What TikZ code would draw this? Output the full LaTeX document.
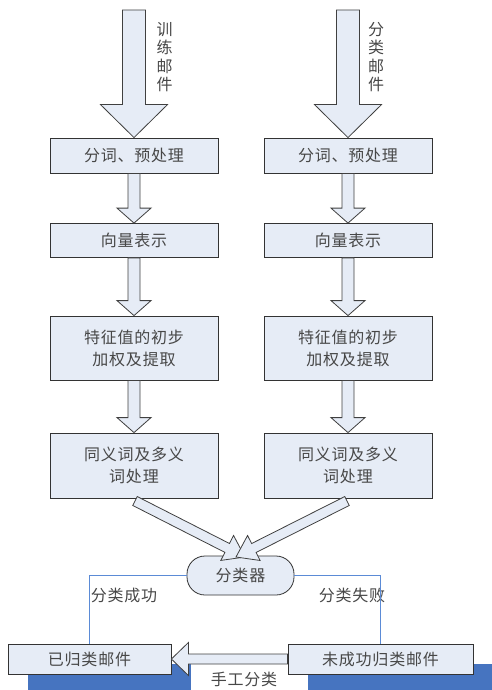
\documentclass[tikz,border=0pt]{standalone}
\usepackage{fontspec}
\setmainfont{Noto Sans CJK SC}[LetterSpace=5]
\usetikzlibrary{calc,shadows}
\definecolor{BoxClr}{RGB}{230,236,246}
\definecolor{LinkClr}{RGB}{91,139,214}
\definecolor{ShadowClr}{RGB}{70,116,192}
\definecolor{TextClr}{gray}{0.28}

% hollow block arrow: from, to, half shaft, half head, head length
\newcommand{\FatArrow}[5]{%
  \coordinate (fa) at ($(#2)!#5!(#1)$);
  \filldraw[arrowbody] ($(#1)!#3!90:(#2)$) -- ($(fa)!#3!90:(#2)$) -- ($(fa)!#4!90:(#2)$)
    -- (#2) -- ($(fa)!#4!-90:(#2)$) -- ($(fa)!#3!-90:(#2)$) -- ($(#1)!#3!-90:(#2)$) -- cycle;}

\begin{document}
\begin{tikzpicture}[x=1pt,y=-1pt,
  box/.style={draw=black!80,fill=BoxClr,line width=0.8pt,text=TextClr,inner sep=0pt,
    align=center,minimum width=168,font=\fontsize{16}{22}\selectfont},
  lbl/.style={text=TextClr,inner sep=0pt,align=center,font=\fontsize{16}{18.5}\selectfont},
  arrowbody/.style={fill=BoxClr,draw=black!75,line width=0.8pt,line join=miter},
  link/.style={draw=LinkClr,line width=0.8pt},
  shade/.style={drop shadow={shadow xshift=20pt,shadow yshift=-20pt,fill=ShadowClr,opacity=1}}]
\clip (0,0) rectangle (492,690);

% left column
\node[box,minimum height=35] (seg1) at (134,155.5) {分词、预处理};
\node[box,minimum height=34] (vec1) at (134,240.5) {向量表示};
\node[box,minimum height=64] (fea1) at (134,348) {特征值的初步\\加权及提取};
\node[box,minimum height=65] (syn1) at (134,465.5) {同义词及多义\\词处理};

% right column
\node[box,minimum height=35] (seg2) at (348,155.5) {分词、预处理};
\node[box,minimum height=34] (vec2) at (348,240.5) {向量表示};
\node[box,minimum height=64] (fea2) at (348,348) {特征值的初步\\加权及提取};
\node[box,minimum height=65] (syn2) at (348,465.5) {同义词及多义\\词处理};

\node[box,minimum width=107,minimum height=39,rounded corners=18] (clf) at (240.5,575.5) {分类器};
\node[box,shade,minimum width=163,minimum height=30] (done) at (89.5,659) {已归类邮件};
\node[box,shade,minimum width=185,minimum height=30] (fail) at (380.5,659) {未成功归类邮件};

\node[lbl] (trainl) at (164.5,57) {训\\练\\邮\\件};
\node[lbl] (testl) at (376,57) {分\\类\\邮\\件};
\node[lbl] (okl) at (124,595) {分类成功};
\node[lbl] (nokl) at (352,595) {分类失败};
\node[lbl] (handl) at (244,679) {手工分类};

\coordinate (trainin) at (134,10);
\coordinate (testin) at (348,10);
\coordinate (tail1) at (135,501);
\coordinate (tail2) at (347,501);
\coordinate (tip1) at (245,557);
\coordinate (tip2) at (236,557);

\draw[link] (clf.west) -| (done.north);
\draw[link] (clf.east) -| (fail.north);

\FatArrow{trainin}{seg1.north}{11.5pt}{33.5pt}{33pt}
\FatArrow{testin}{seg2.north}{11.5pt}{33.5pt}{33pt}
\FatArrow{seg1.south}{vec1.north}{6pt}{17pt}{15pt}
\FatArrow{vec1.south}{fea1.north}{6pt}{17pt}{15pt}
\FatArrow{fea1.south}{syn1.north}{6pt}{17pt}{15pt}
\FatArrow{seg2.south}{vec2.north}{6pt}{17pt}{15pt}
\FatArrow{vec2.south}{fea2.north}{6pt}{17pt}{15pt}
\FatArrow{fea2.south}{syn2.north}{6pt}{17pt}{15pt}
\FatArrow{tail1}{tip1}{5pt}{14pt}{20pt}
\FatArrow{tail2}{tip2}{5pt}{14pt}{20pt}
\FatArrow{fail.west}{done.east}{5pt}{16.5pt}{17pt}

\end{tikzpicture}
\end{document}
